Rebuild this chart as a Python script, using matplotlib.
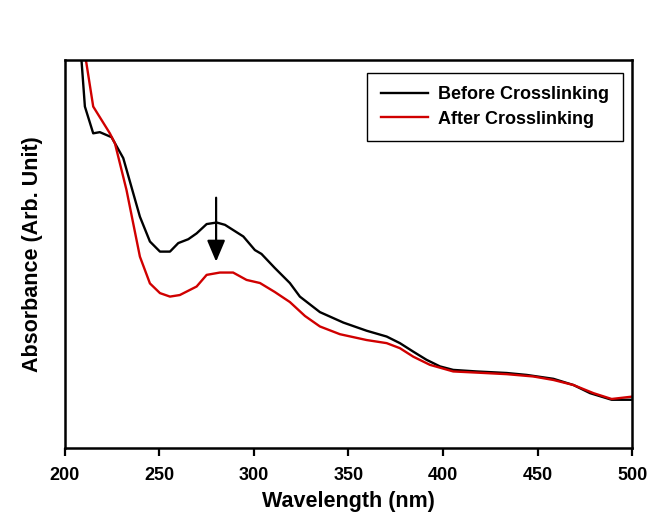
import matplotlib.pyplot as plt

plt.rcParams['font.family'] = ['Liberation Sans', 'DejaVu Sans']

# wavelength (nm) and absorbance (arb. unit)
wl_before = [208.5, 210.6, 215, 218.5, 224.7, 230.9, 239.7, 245, 250.3, 255.6,
             260, 265.3, 269.7, 275, 280.3, 284.7, 294.4, 300.5, 304, 311,
             319, 324.3, 334.9, 347.3, 359.6, 370.2, 377.2, 384.3, 391.3, 398.4,
             405.4, 417.8, 433.7, 444.3, 458.4, 469, 477.8, 489.2, 499.8]
abs_before = [1.02, 0.880, 0.811, 0.814, 0.801, 0.747, 0.596, 0.532, 0.506, 0.506,
              0.528, 0.538, 0.553, 0.577, 0.581, 0.575, 0.545, 0.510, 0.500, 0.464,
              0.425, 0.390, 0.350, 0.323, 0.302, 0.287, 0.270, 0.248, 0.227, 0.210,
              0.201, 0.197, 0.193, 0.188, 0.178, 0.162, 0.141, 0.124, 0.124]

wl_after = [210.5, 215, 223.8, 226.5, 232.6, 239.7, 245, 250.3, 255.6, 260.8,
            269.7, 275, 282, 289, 296.1, 303.2, 311, 319, 327, 334.9,
            345.5, 359.6, 370.2, 377.2, 384.3, 393.1, 405.4, 417.8, 433.7, 447.8,
            458.4, 469, 479.6, 489.2, 499.8]
abs_after = [1.02, 0.880, 0.811, 0.785, 0.665, 0.493, 0.424, 0.399, 0.390, 0.394,
             0.416, 0.446, 0.452, 0.452, 0.433, 0.425, 0.402, 0.376, 0.340, 0.313,
             0.293, 0.278, 0.270, 0.257, 0.235, 0.214, 0.197, 0.194, 0.190, 0.184,
             0.175, 0.162, 0.141, 0.126, 0.132]

xticks = [200, 250, 300, 350, 400, 450, 500]

fig = plt.figure(figsize=(6.55, 5.13), dpi=100)
ax = fig.add_axes([0.099, 0.127, 0.866, 0.756])

ax.plot(wl_before, abs_before, color='black', lw=1.7, label='Before Crosslinking')
ax.plot(wl_after, abs_after, color='#d00000', lw=1.7, label='After Crosslinking')

# arrow marking the decrease at ~280 nm
ax.annotate('', xy=(280, 0.48), xytext=(280, 0.645),
            arrowprops=dict(arrowstyle='-|>,head_width=0.55,head_length=1.3',
                            color='black', lw=1.6, shrinkA=0, shrinkB=0))

ax.set_xlim(200, 500)
ax.set_ylim(0, 1.0)
ax.set_xticks(xticks)
ax.set_yticks([])
ax.tick_params(axis='x', direction='out', length=6, width=1.6, labelsize=13, pad=8)
for lab in ax.get_xticklabels():
    lab.set_fontweight('bold')
for sp in ax.spines.values():
    sp.set_linewidth(1.8)

ax.set_xlabel('Wavelength (nm)', fontsize=15.5, fontweight='bold', labelpad=5)
ax.set_ylabel('Absorbance (Arb. Unit)', fontsize=15.5, fontweight='bold', labelpad=16)

leg = ax.legend(loc='upper right', bbox_to_anchor=(0.984, 0.967), borderaxespad=0,
                fancybox=False, edgecolor='black', framealpha=1,
                handlelength=2.6, handletextpad=0.6,
                prop={'size': 13, 'weight': 'bold'}, borderpad=0.75, labelspacing=0.4)
leg.get_frame().set_linewidth(1.0)

fig.savefig('out.png', dpi=100)
